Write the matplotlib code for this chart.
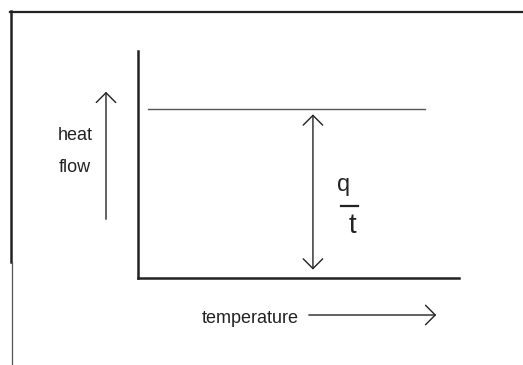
import matplotlib.pyplot as plt
from matplotlib import font_manager

# schematic: heat flow vs temperature, constant level q/t
temperature = [0.03, 0.895]
heat_flow = [0.745, 0.745]
arrow_x = 0.545
label_axis_x = "temperature"
label_axis_y = ["heat", "flow"]

names = {f.name for f in font_manager.fontManager.ttflist}
if 'Liberation Sans Narrow' in names:
    plt.rcParams['font.family'] = ['Liberation Sans Narrow', 'DejaVu Sans']
    fs = 15.5
else:
    plt.rcParams['font.family'] = ['Liberation Sans', 'DejaVu Sans']
    fs = 13
ink = '#222222'
head = dict(color=ink, lw=1.0, mutation_scale=14)

fig = plt.figure(figsize=(5.23, 3.65), dpi=100)

# whole-figure overlay in pixel coords for frame and labels
bg = fig.add_axes([0, 0, 1, 1])
bg.set_xlim(0, 523)
bg.set_ylim(365, 0)
bg.axis('off')
bg.plot([10, 523], [12, 12], color=ink, lw=1.6)
bg.plot([11, 11], [11, 262], color=ink, lw=1.8)
bg.plot([11.5, 11.5], [262, 365], color='#555555', lw=0.9)

# heat flow arrow and label
bg.annotate('', xy=(106, 89), xytext=(106, 222),
            arrowprops=dict(arrowstyle='->,head_length=0.5,head_width=0.5', **head))
bg.text(93, 140, label_axis_y[0], ha='right', va='baseline', fontsize=fs, color=ink)
bg.text(91, 172, label_axis_y[1], ha='right', va='baseline', fontsize=fs, color=ink)

# temperature label and arrow
bg.text(202, 323, label_axis_x, ha='left', va='baseline', fontsize=fs, color=ink)
bg.annotate('', xy=(439, 315), xytext=(306, 315),
            arrowprops=dict(arrowstyle='->,head_length=0.5,head_width=0.5', **head))

# chart area
ax = fig.add_axes([138 / 523, (365 - 278) / 365, (459 - 138) / 523, (278 - 51) / 365])
ax.set_xlim(0, 1)
ax.set_ylim(0, 1)
ax.patch.set_alpha(0)
for s in ['top', 'right']:
    ax.spines[s].set_visible(False)
for s in ['left', 'bottom']:
    ax.spines[s].set_color(ink)
    ax.spines[s].set_linewidth(1.8)
ax.set_xticks([])
ax.set_yticks([])

ax.plot(temperature, heat_flow, color='#555555', lw=1.0)
ax.annotate('', xy=(arrow_x, heat_flow[0] - 0.012), xytext=(arrow_x, 0.025),
            arrowprops=dict(arrowstyle='<->,head_length=0.5,head_width=0.5', **head))

# q / t fraction
bg.text(343.5, 191, 'q', ha='center', va='baseline', fontsize=17, color=ink)
bg.plot([341, 358], [206, 206], color=ink, lw=1.6)
bg.text(352.5, 233, 't', ha='center', va='baseline', fontsize=20, color=ink)

fig.savefig('out.png', dpi=100)
